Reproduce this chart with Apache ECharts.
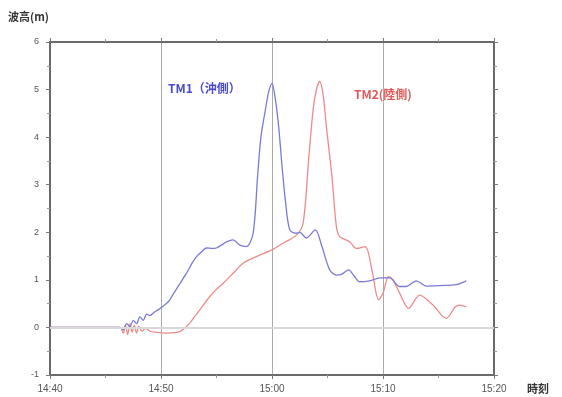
<!DOCTYPE html>
<html><head><meta charset="utf-8">
<script src="https://cdn.jsdelivr.net/npm/echarts@6/dist/echarts.min.js"></script>
<style>html,body{margin:0;padding:0;background:#fff}#c{width:562px;height:397px}</style>
</head><body><div id="c"></div>
<script>
// minutes after 14:40
const xTickLabels = ['14:40','14:50','15:00','15:10','15:20'];
const yTicks = [-1,0,1,2,3,4,5,6];
const tm1Time = [0,6.3,6.6,6.9,7.2,7.5,7.8,8.1,8.4,8.7,9.0,9.4,9.8,10.2,10.7,11.1,11.7,12.3,12.8,13.2,13.7,14.1,14.6,15.0,15.5,15.9,16.5,17.1,17.7,18.3,18.7,19.0,19.4,19.7,20.0,20.3,20.6,20.9,21.2,21.6,22.2,22.5,23.1,23.9,24.5,25.2,25.8,26.3,26.9,27.4,27.9,28.8,29.7,30.6,31.5,32.1,33.0,33.9,35.1,36.6,37.5];
const tm1Height = [0,0,-0.05,0.08,0.02,0.15,0.08,0.22,0.15,0.28,0.25,0.32,0.38,0.45,0.55,0.70,0.92,1.14,1.35,1.49,1.60,1.67,1.66,1.67,1.74,1.80,1.84,1.73,1.70,1.98,3.17,4.0,4.57,4.95,5.13,4.8,4.22,3.4,2.68,2.05,1.98,2.0,1.88,2.05,1.70,1.21,1.10,1.12,1.21,1.08,0.96,0.98,1.04,1.04,0.86,0.86,0.98,0.87,0.88,0.90,0.98];
const tm2Time = [0,6.3,6.6,6.8,7.0,7.2,7.4,7.6,7.8,8.0,8.3,8.6,9.0,9.5,10.5,11.2,11.7,12.2,12.6,13.0,13.5,14.4,15.0,15.6,16.5,17.4,18.6,20.0,21.0,22.2,22.8,23.3,23.7,24.0,24.3,24.6,24.9,25.4,25.8,26.1,27.0,27.6,28.4,29.0,29.6,30.0,30.5,30.9,31.5,32.3,33.3,34.5,35.7,36.5,36.9,37.5];
const tm2Height = [0,0,-0.12,0.05,-0.15,0.08,-0.1,0.05,-0.12,0.02,-0.08,-0.02,-0.08,-0.10,-0.12,-0.11,-0.09,0.0,0.09,0.22,0.37,0.65,0.80,0.93,1.14,1.35,1.49,1.63,1.77,1.94,2.19,3.52,4.57,5.0,5.17,4.9,4.22,3.17,2.12,1.91,1.80,1.66,1.70,1.21,0.58,0.72,1.07,1.0,0.72,0.40,0.68,0.47,0.19,0.43,0.47,0.43];

const chart = echarts.init(document.getElementById('c'));
const fmtX = v => xTickLabels[Math.round(v/10)] || '';
const axisLine = {show:true, onZero:false, lineStyle:{color:'#6a6a6a', width:2}};
const tickStyle = {show:true, length:4, lineStyle:{color:'#777', width:1}};
const minor = {show:true, splitNumber:2, length:3, lineStyle:{color:'#999', width:1}};
chart.setOption({
  animation:false,
  grid:{left:50, right:68, top:42, bottom:22},
  xAxis:[
    {type:'value', min:0, max:40, interval:10, position:'bottom',
     axisLine:axisLine, axisTick:tickStyle, minorTick:minor,
     axisLabel:{formatter:v=>fmtX(v), color:'#555', fontSize:10, fontFamily:'Liberation Sans', margin:9},
     splitLine:{show:true, lineStyle:{color:'#aaa', width:1}}},
    {type:'value', min:0, max:40, interval:10, position:'top',
     axisLine:axisLine, axisTick:tickStyle, minorTick:minor, axisLabel:{show:false}, splitLine:{show:false}}
  ],
  yAxis:[
    {type:'value', min:-1, max:6, interval:1, position:'left',
     axisLine:axisLine, axisTick:tickStyle, minorTick:minor,
     axisLabel:{formatter:v=>yTicks.includes(v)?String(v):'', color:'#555', fontSize:9, fontFamily:'Liberation Sans', margin:11},
     splitLine:{show:false}},
    {type:'value', min:-1, max:6, interval:1, position:'right',
     axisLine:axisLine, axisTick:tickStyle, minorTick:minor, axisLabel:{show:false}, splitLine:{show:false}}
  ],
  graphic:[
    {type:'text', left:8, top:11, style:{text:'波高(m)', font:'bold 11px "Noto Sans CJK JP"', fill:'#333'}},
    {type:'text', left:527, top:383, style:{text:'時刻', font:'bold 11px "Noto Sans CJK JP"', fill:'#333'}},
    {type:'text', left:168, top:82, style:{text:'TM1（沖側）', font:'bold 12px "Noto Sans CJK JP"', fill:'#4a4ad0'}},
    {type:'text', left:354, top:88, style:{text:'TM2(陸側)', font:'bold 12px "Noto Sans CJK JP"', fill:'#e05a5a'}}
  ],
  series:[
    {type:'line', name:'TM2', data:tm2Time.map((t,i)=>[t,tm2Height[i]]), showSymbol:false, smooth:0.3,
     lineStyle:{color:'#ee8a8a', width:1.3},
     markLine:{silent:true, symbol:'none', label:{show:false}, lineStyle:{color:'#d8d8d8', width:2, type:'solid'}, data:[{yAxis:0}]}, z:3},
    {type:'line', name:'TM1', data:tm1Time.map((t,i)=>[t,tm1Height[i]]), showSymbol:false, smooth:0.3,
     lineStyle:{color:'#7a7ad8', width:1.3}, z:4}
  ]
});
</script></body></html>
